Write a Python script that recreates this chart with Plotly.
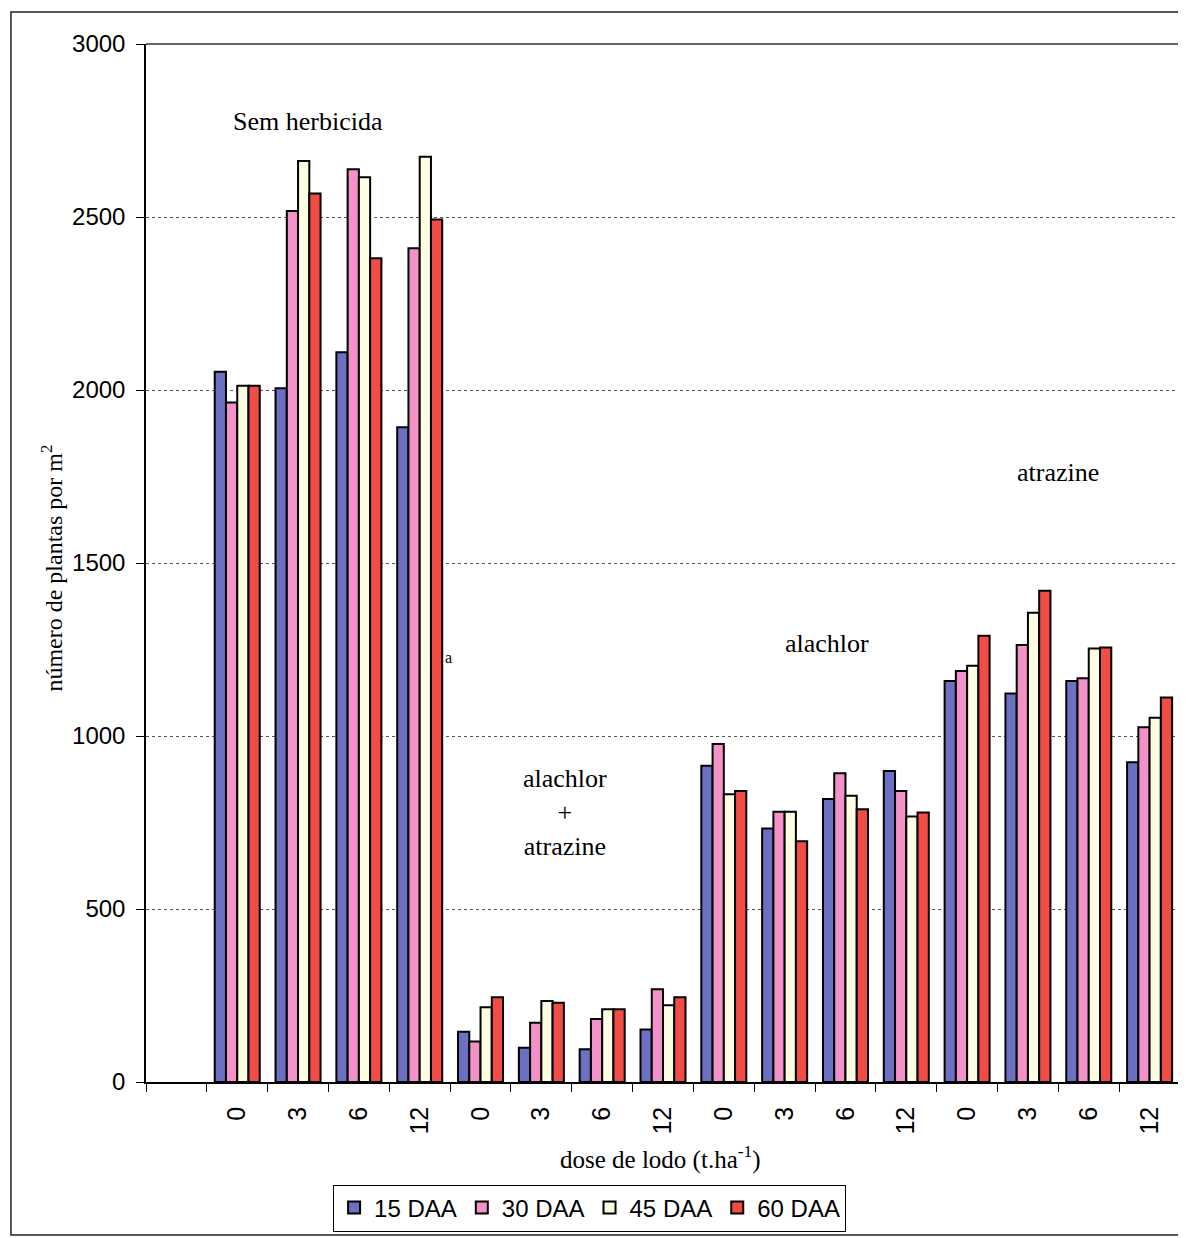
import plotly.graph_objects as go

# ---- data ----
doses = ["0", "3", "6", "12"] * 4
series_names = ["15 DAA", "30 DAA", "45 DAA", "60 DAA"]
daa15 = [2053, 2005, 2109, 1892, 145, 99, 95, 152, 914, 733, 818, 899, 1159, 1123, 1159, 924]
daa30 = [1964, 2517, 2638, 2410, 117, 171, 182, 268, 977, 781, 892, 841, 1188, 1263, 1167, 1025]
daa45 = [2012, 2662, 2615, 2674, 216, 234, 210, 222, 832, 781, 827, 767, 1203, 1356, 1253, 1053]
daa60 = [2012, 2568, 2381, 2493, 245, 229, 210, 245, 841, 696, 788, 779, 1290, 1420, 1256, 1111]
colors = ["#6b70c2", "#f391c9", "#fdfde4", "#f24c46"]
y_ticks = [0, 500, 1000, 1500, 2000, 2500, 3000]

# first category slot is empty in the original chart
xpos = [i + 1 for i in range(len(doses))]
serif = "Liberation Serif, Times New Roman, serif"
sans = "Liberation Sans, Arial, sans-serif"

fig = go.Figure()
for name, vals, col in zip(series_names, [daa15, daa30, daa45, daa60], colors):
    fig.add_trace(go.Bar(
        x=xpos, y=vals, name=name,
        marker=dict(color=col, line=dict(color="black", width=2)),
    ))

# page body has an 8px margin, so the figure is 8px smaller than the window
fig.update_layout(
    width=1178, height=1230,
    margin=dict(l=138, r=6, t=36, b=156),
    paper_bgcolor="white", plot_bgcolor="white",
    barmode="group", bargap=0.26, bargroupgap=0,
    font=dict(family=sans, size=22, color="black"),
    showlegend=True,
    legend=dict(
        orientation="h", x=0.429, xanchor="center", y=-0.1214, yanchor="middle",
        bordercolor="black", borderwidth=1, font=dict(family=sans, size=24),
        itemwidth=30, traceorder="normal", bgcolor="white",
    ),
)

fig.update_xaxes(
    range=[-0.5, len(doses) + 0.5],
    tickmode="array", tickvals=xpos, ticktext=doses, tickangle=-90,
    ticks="outside", ticklen=13, tickcolor="rgba(0,0,0,0)",
    tickfont=dict(family=sans, size=25),
    showline=True, linecolor="black", linewidth=1.5,
    showgrid=False, zeroline=False,
    minor=dict(tickmode="array", tickvals=[i - 0.5 for i in range(len(doses) + 2)],
               ticks="outside", ticklen=8, tickcolor="black", tickwidth=1, showgrid=False),
)

fig.update_yaxes(
    range=[0, 3000], tickmode="array", tickvals=y_ticks,
    ticks="outside", ticklen=8, tickcolor="black", ticklabelstandoff=6,
    tickfont=dict(family=sans, size=24),
    showline=True, linecolor="black", linewidth=1.5,
    showgrid=True, gridcolor="#555555", gridwidth=1, griddash="3px,3px",
    zeroline=False,
)

# plot area border (top/right) and outer chart frame
fig.add_shape(type="line", xref="paper", yref="paper", x0=0, x1=1, y0=1, y1=1,
              line=dict(color="#333333", width=1.5))
fig.add_shape(type="line", xref="paper", yref="paper", x0=1, x1=1, y0=0, y1=1,
              line=dict(color="#888888", width=1))
fig.add_shape(type="rect", xref="paper", yref="paper",
              x0=-0.1306, x1=1.0029, y0=-0.1474, y1=1.0308,
              line=dict(color="#222222", width=1.5), layer="below")

# axis titles
fig.add_annotation(text="número de plantas por m<sup>2</sup>", xref="paper", yref="paper",
                   x=-0.0905, y=0.495, xanchor="center", yanchor="middle",
                   textangle=-90, showarrow=False,
                   font=dict(family=serif, size=24))
fig.add_annotation(text="dose de lodo (t.ha<sup>-1</sup>)", xref="paper", yref="paper",
                   x=0.498, y=-0.0723, xanchor="center", yanchor="middle", showarrow=False,
                   font=dict(family=serif, size=25))

# group labels
labels = [
    ("Sem herbicida", 2.16, 2775, 26),
    ("alachlor<br>+<br>atrazine", 6.39, 780, 26),
    ("alachlor", 10.7, 1266, 26),
    ("atrazine", 14.5, 1763, 26),
    ("a", 4.48, 1228, 16),
]
for txt, xv, yv, sz in labels:
    fig.add_annotation(text=txt, x=xv, y=yv, showarrow=False,
                       font=dict(family=serif, size=sz), align="center")

fig.write_html("out.html")
